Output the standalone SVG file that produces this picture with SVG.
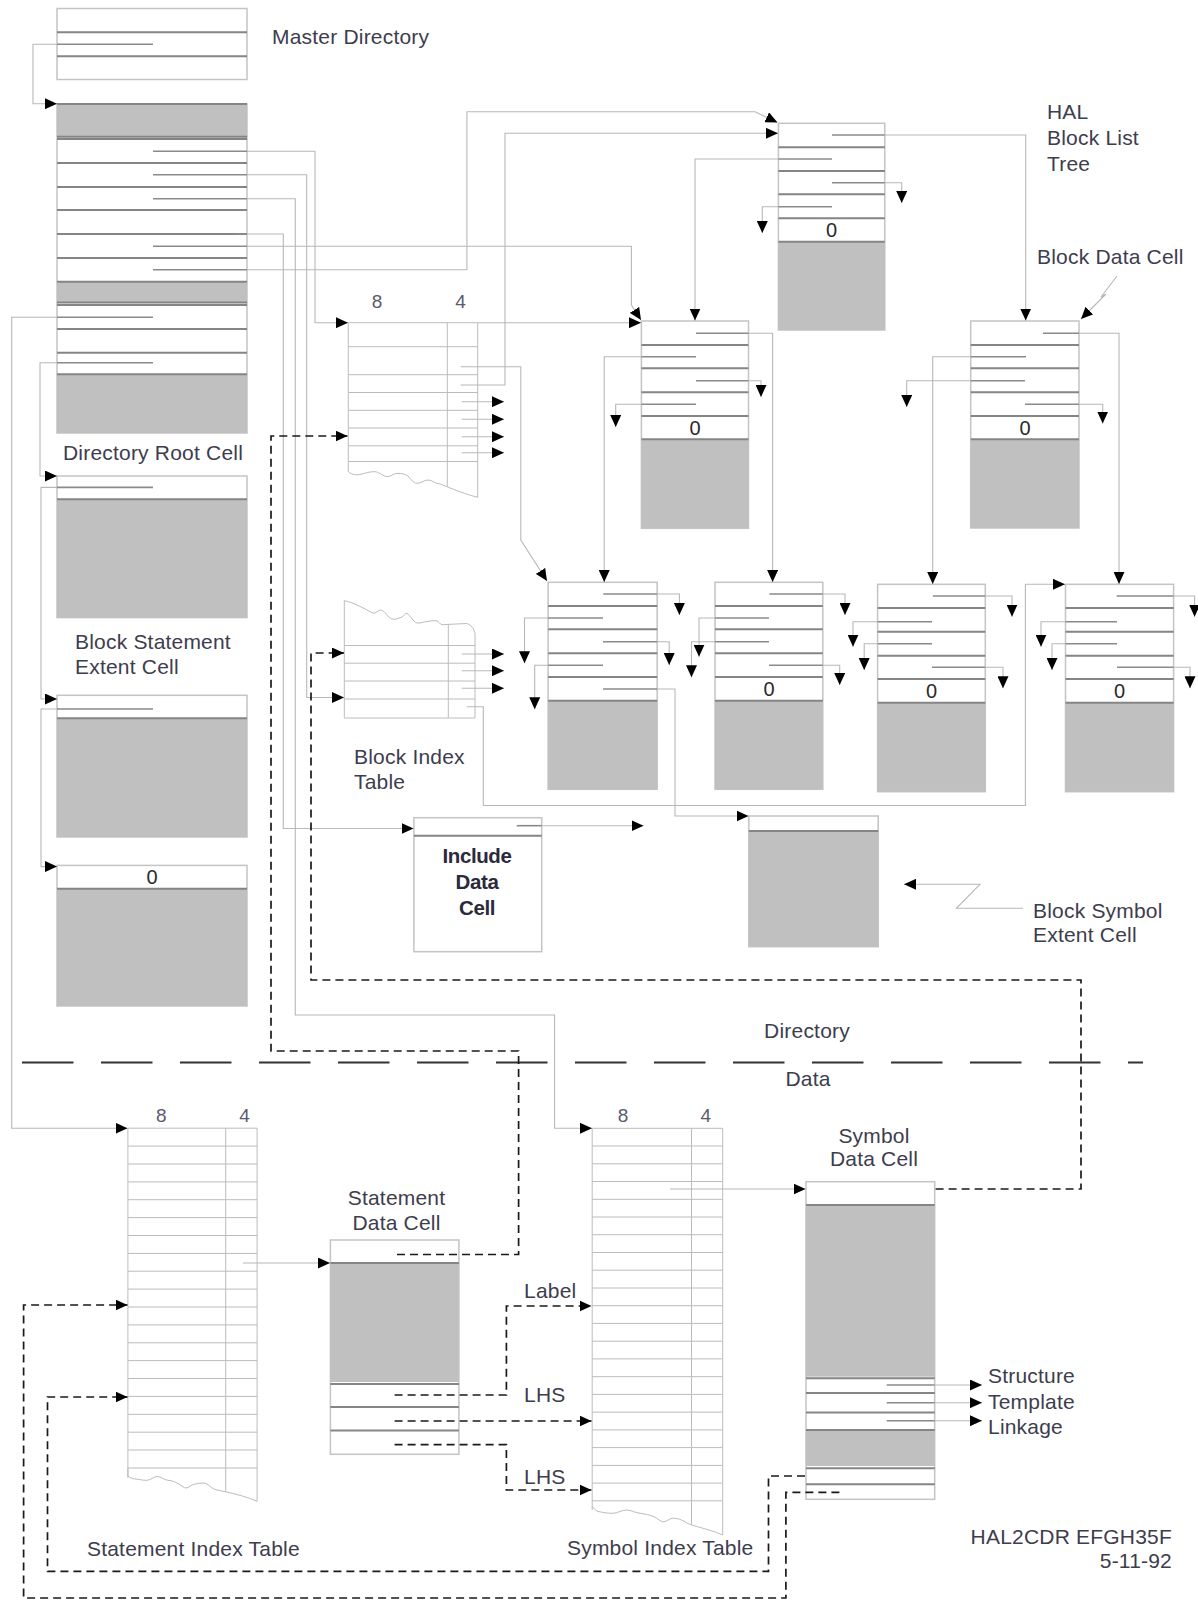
<svg xmlns="http://www.w3.org/2000/svg" width="1198" height="1600" viewBox="0 0 1198 1600">
<defs>
<marker id="ah" viewBox="0 0 12 11" refX="12" refY="5.5" markerWidth="12" markerHeight="11" markerUnits="userSpaceOnUse" orient="auto">
<path d="M0,0 L12,5.5 L0,11 z" fill="#000"/>
</marker>
<style>
.cell{fill:#fff;stroke:#c4c4c4;stroke-width:1.5}
.gray{fill:#c0c0c0;stroke:none}
.row{stroke:#858585;stroke-width:2;fill:none}
.ptr{stroke:#8a8a8a;stroke-width:1.6;fill:none}
.conn{fill:none;stroke:#b8b8b8;stroke-width:1.1}
.arr{marker-end:url(#ah)}
.dash{fill:none;stroke:#1a1a1a;stroke-width:1.7;stroke-dasharray:8 5}
.tbl{fill:none;stroke:#bcbcbc;stroke-width:1}
.lbl{font-family:"Liberation Sans",Arial,sans-serif;font-size:21px;letter-spacing:0.2px;fill:#3d3d4d}
.hdr{font-family:"Liberation Sans",Arial,sans-serif;font-size:19px;fill:#5a5a6e;text-anchor:middle}
.zero{font-family:"Liberation Sans",Arial,sans-serif;font-size:20px;fill:#2a2a2a;text-anchor:middle}
.bold{font-family:"Liberation Sans",Arial,sans-serif;font-size:20.5px;font-weight:bold;fill:#2a2a3a;text-anchor:middle;letter-spacing:-0.4px}
</style>
</defs>
<rect width="1198" height="1600" fill="#fff"/>

<!-- Master Directory -->
<g id="master-directory">
<rect class="cell" x="57" y="8.5" width="190" height="71"/>
<path class="row" d="M57,32.3H247M57,56.3H247"/>
<path class="ptr" d="M57,44.3H153"/>
<text class="lbl" x="272" y="44">Master Directory</text>
</g>

<!-- Directory Root Cell -->
<g id="directory-root-cell">
<rect class="cell" x="57" y="104" width="190" height="329"/>
<rect class="gray" x="57" y="104" width="190" height="32.7"/>
<rect class="gray" x="57" y="282" width="190" height="20"/>
<rect class="gray" x="57" y="374.3" width="190" height="58.7"/>
<path class="row" d="M57,104H247M57,136.7H247M57,138.9H247M57,163H247M57,187H247M57,210H247M57,234H247M57,258H247M57,281.7H247M57,302.5H247M57,305H247M57,329H247M57,352.7H247M57,374.3H247"/>
<path class="ptr" d="M153,151.3H247M153,174.7H247M153,198.7H247M235,234H247M153,246.3H247M153,269.7H247M57,317.3H153M57,362.7H153"/>
<text class="lbl" x="63" y="460">Directory Root Cell</text>
</g>

<!-- Block Statement Extent Cells -->
<g id="block-statement-extent-cell-1">
<rect class="cell" x="57" y="476" width="190" height="141.6"/>
<rect class="gray" x="57" y="499.2" width="190" height="118.4"/>
<path class="row" d="M57,499.2H247"/>
<path class="ptr" d="M57,487.4H153"/>
</g>
<text class="lbl" x="75" y="649">Block Statement</text>
<text class="lbl" x="75" y="674">Extent Cell</text>
<g id="block-statement-extent-cell-2">
<rect class="cell" x="57" y="695.3" width="190" height="141.7"/>
<rect class="gray" x="57" y="718.2" width="190" height="118.8"/>
<path class="row" d="M57,718.2H247"/>
<path class="ptr" d="M57,709H153"/>
</g>
<g id="block-statement-extent-cell-3">
<rect class="cell" x="57" y="865.4" width="190" height="140.6"/>
<rect class="gray" x="57" y="888.8" width="190" height="117.2"/>
<path class="row" d="M57,888.8H247"/>
<text class="zero" x="152" y="884">0</text>
</g>

<!-- HAL Block List Tree -->
<g id="hal-block-list-tree">
<rect class="cell" x="778.4" y="123.3" width="106.4" height="206.7"/>
<rect class="gray" x="778.4" y="241.7" width="106.4" height="88.3"/>
<path class="row" d="M778.4,147.3H884.8M778.4,171H884.8M778.4,194.3H884.8M778.4,218.3H884.8M778.4,241.7H884.8"/>
<path class="ptr" d="M832,135H884.8M778.4,159H832M832,182.7H884.8M778.4,206.7H832"/>
<text class="zero" x="831.5" y="237">0</text>
<text class="lbl" x="1047" y="119">HAL</text>
<text class="lbl" x="1047" y="145">Block List</text>
<text class="lbl" x="1047" y="171">Tree</text>
</g>

<!-- Block Data Cell (middle) -->
<g id="block-data-cell-1">
<rect class="cell" x="641.4" y="321" width="107.1" height="207.3"/>
<rect class="gray" x="641.4" y="439.3" width="107.1" height="89"/>
<path class="row" d="M641.4,345H748.5M641.4,368.3H748.5M641.4,392.3H748.5M641.4,416H748.5M641.4,439.3H748.5"/>
<path class="ptr" d="M696,333.3H748.5M641.4,356.7H696M696,380.7H748.5M641.4,404.3H696"/>
<text class="zero" x="695" y="435">0</text>
</g>

<!-- Block Data Cell (right) -->
<g id="block-data-cell-2">
<rect class="cell" x="970.7" y="321" width="108.3" height="207"/>
<rect class="gray" x="970.7" y="439.3" width="108.3" height="88.7"/>
<path class="row" d="M970.7,345H1079M970.7,368.3H1079M970.7,392.3H1079M970.7,416H1079M970.7,439.3H1079"/>
<path class="ptr" d="M1043,333.3H1079M970.7,356.7H1026M970.7,380.7H1025M1025,404.3H1079"/>
<text class="zero" x="1025" y="435">0</text>
<text class="lbl" x="1037" y="264">Block Data Cell</text>
</g>

<!-- Level 3 block cells -->
<g id="block-cell-3a">
<rect class="cell" x="548.1" y="582.3" width="109.1" height="207"/>
<rect class="gray" x="548.1" y="700.7" width="109.1" height="88.6"/>
<path class="row" d="M548.1,606H657.2M548.1,629.3H657.2M548.1,653.3H657.2M548.1,677H657.2M548.1,700.7H657.2"/>
<path class="ptr" d="M603.3,594H657.2M548.1,618H603M603,641.7H657.2M548.1,665.3H603M603,689H657.2"/>
</g>
<g id="block-cell-3b">
<rect class="cell" x="715" y="582.3" width="107.8" height="207"/>
<rect class="gray" x="715" y="700.7" width="107.8" height="88.6"/>
<path class="row" d="M715,606H822.8M715,629.3H822.8M715,653.3H822.8M715,677H822.8M715,700.7H822.8"/>
<path class="ptr" d="M769.4,594H822.8M715,618H769M715,641.7H769M769,665.3H822.8"/>
<text class="zero" x="769" y="696">0</text>
</g>
<g id="block-cell-3c">
<rect class="cell" x="877.6" y="584.3" width="107.7" height="207.4"/>
<rect class="gray" x="877.6" y="702.7" width="107.7" height="89"/>
<path class="row" d="M877.6,608H985.3M877.6,631.7H985.3M877.6,655.7H985.3M877.6,679H985.3M877.6,702.7H985.3"/>
<path class="ptr" d="M932.8,596H985.3M877.6,621.7H932M877.6,643.7H932M932,667.3H985.3"/>
<text class="zero" x="931.5" y="698">0</text>
</g>
<g id="block-cell-3d">
<rect class="cell" x="1065.5" y="584.3" width="108.1" height="207.4"/>
<rect class="gray" x="1065.5" y="702.7" width="108.1" height="89"/>
<path class="row" d="M1065.5,608H1173.6M1065.5,631.7H1173.6M1065.5,655.7H1173.6M1065.5,679H1173.6M1065.5,702.7H1173.6"/>
<path class="ptr" d="M1116.7,596H1173.6M1065.5,621.7H1117M1065.5,643.7H1117M1117,667.3H1173.6"/>
<text class="zero" x="1119.5" y="698">0</text>
</g>

<!-- Block Symbol Extent Cell -->
<g id="block-symbol-extent-cell">
<rect class="cell" x="748.8" y="816" width="129.4" height="130.7"/>
<rect class="gray" x="748.8" y="831" width="129.4" height="115.7"/>
<path class="row" d="M748.8,831H878.2"/>
<text class="lbl" x="1033" y="918">Block Symbol</text>
<text class="lbl" x="1033" y="942">Extent Cell</text>
</g>

<!-- Include Data Cell -->
<g id="include-data-cell">
<rect class="cell" x="413.9" y="817.7" width="127.8" height="134"/>
<path class="row" d="M413.9,835.7H541.7"/>
<path class="ptr" d="M516.7,825.7H541.7"/>
<text class="bold" x="477" y="863">Include</text>
<text class="bold" x="477" y="889">Data</text>
<text class="bold" x="477" y="915">Cell</text>
</g>

<!-- Block List index table (top) -->
<g id="block-list-index-table">
<path class="tbl" d="M348.3,322.7H477.7M348.3,346.7H477.7M348.3,374.7H477.7M348.3,392.5H477.7M348.3,410.3H477.7M348.3,428H477.7M348.3,445.8H477.7M348.3,461.5H477.7"/>
<path class="tbl" d="M348.3,322.7V471.7M447.3,322.7V486.7M477.7,322.7V497.3"/>
<path class="tbl" d="M348.3,471.7 C352,475 356,475 360,474.5 C366,473 370,471.5 375,471.7 C380,472 383,477 388,476.5 C392,476 394,473 398,473.3 C402,473.5 405,474 408,476 C411,479 413,483 417,483.3 C421,483.5 424,480 428,480 C432,480 434,483 438,483.5 C441,484 444,485.5 447,486.7 C455,490 465,494 477.7,497.3"/>
<path class="conn" d="M460.7,366.7H477.7M460.7,385H477.7"/>
<text class="hdr" x="377" y="308">8</text>
<text class="hdr" x="460.5" y="308">4</text>
</g>

<!-- Block Index Table -->
<g id="block-index-table">
<path class="tbl" d="M344.3,645.5H475M344.3,663.2H475M344.3,681H475M344.3,699H475M344.3,718H475"/>
<path class="tbl" d="M344.3,600.7V718M448.3,624.3V718M475,633.3V718"/>
<path class="tbl" d="M344.3,600.7 C350,602 354,603.5 358,605.5 C364,608 368,611 373,613 C376,614 378,610 381,610 C385,610.5 388,618 392,619 C396,620 398,618 401,617.5 C404,616.5 405,613 407,613.5 C410,614.5 413,622 417,623 C421,623.5 424,621.5 427,621.5 C431,621 433,620.5 436,620.7 C439,621 440,624.5 442,624.7 L466.7,623.5 C470,624 472,627 473.5,629 L475,633.3"/>
<text class="lbl" x="354" y="764">Block Index</text>
<text class="lbl" x="354" y="789">Table</text>
</g>

<!-- Statement Index Table -->
<g id="statement-index-table">
<path class="tbl" d="M127.9,1128.2H257.1M127.9,1146.1H257.1M127.9,1164H257.1M127.9,1181.9H257.1M127.9,1199.7H257.1M127.9,1217.6H257.1M127.9,1235.5H257.1M127.9,1253.4H257.1M127.9,1271.2H257.1M127.9,1289.1H257.1M127.9,1307H257.1M127.9,1324.9H257.1M127.9,1342.8H257.1M127.9,1360.6H257.1M127.9,1378.5H257.1M127.9,1396.4H257.1M127.9,1414.3H257.1M127.9,1432.2H257.1M127.9,1450H257.1M127.9,1468H257.1"/>
<path class="tbl" d="M127.9,1128.2V1478M225.7,1128.2V1491.8M257.1,1128.2V1501.3"/>
<path class="tbl" d="M127.9,1468 L127.9,1476 C130,1478 133,1479 136,1479 C140,1479.5 143,1480.5 147,1480.3 C151,1480 154,1476.5 157,1476.5 C161,1476.5 164,1480 168,1480.3 C172,1480.5 175,1482 179,1484 C182,1486 184,1488 186,1488 C189,1488 191,1484.5 195,1484 C199,1483.5 201,1483 204,1483 C208,1483.5 211,1488 214,1489 C218,1490.5 222,1491 225.7,1491.8 C236,1494 247,1497 257.1,1501.3"/>
<text class="hdr" x="161.4" y="1122">8</text>
<text class="hdr" x="244.6" y="1122">4</text>
<text class="lbl" x="87" y="1556">Statement Index Table</text>
</g>

<!-- Statement Data Cell -->
<g id="statement-data-cell">
<rect class="cell" x="330.4" y="1240" width="128.5" height="214.3"/>
<rect class="gray" x="330.4" y="1263" width="128.5" height="119"/>
<path class="row" d="M330.4,1263H458.9M330.4,1384H458.9M330.4,1407H458.9M330.4,1430.5H458.9"/>
<text class="lbl" x="396.5" y="1205" text-anchor="middle">Statement</text>
<text class="lbl" x="396.5" y="1230" text-anchor="middle">Data Cell</text>
</g>

<!-- Symbol Index Table -->
<g id="symbol-index-table">
<path class="tbl" d="M592.2,1128.3H722.7M592.2,1146H722.7M592.2,1163.8H722.7M592.2,1181.5H722.7M592.2,1199.3H722.7M592.2,1217H722.7M592.2,1234.7H722.7M592.2,1252.5H722.7M592.2,1270.2H722.7M592.2,1288H722.7M592.2,1305.7H722.7M592.2,1323.4H722.7M592.2,1341.2H722.7M592.2,1358.9H722.7M592.2,1376.7H722.7M592.2,1394.4H722.7M592.2,1412.1H722.7M592.2,1429.9H722.7M592.2,1447.6H722.7M592.2,1465.4H722.7M592.2,1483.1H722.7M592.2,1500.8H722.7"/>
<path class="tbl" d="M592.2,1128.3V1510M691.5,1128.3V1525M722.7,1128.3V1535"/>
<path class="tbl" d="M592.2,1506 C594,1509 596,1511 599,1511.7 C604,1512.5 608,1513.5 613,1513.3 C618,1513 622,1510 626.5,1510 C631,1510 636,1513 640.3,1513.3 C645,1514 650,1515 654,1516.7 C658,1518.5 660,1521.5 663.2,1521.7 C667,1522 669,1518.5 672.3,1518.3 C676,1518 679,1519 681.5,1520 C685,1521.5 688,1524 691.5,1525 C700,1527.5 714,1531 722.7,1535"/>
<text class="hdr" x="623" y="1122">8</text>
<text class="hdr" x="705.7" y="1122">4</text>
<text class="lbl" x="567" y="1555">Symbol Index Table</text>
</g>

<!-- Symbol Data Cell -->
<g id="symbol-data-cell">
<rect class="cell" x="806" y="1181.7" width="128.7" height="317.6"/>
<rect class="gray" x="806" y="1205" width="128.7" height="171.7"/>
<rect class="gray" x="806" y="1430" width="128.7" height="36"/>
<path class="row" d="M806,1205H934.7M806,1378.3H934.7M806,1393H934.7M806,1412.5H934.7M806,1430H934.7M806,1468.3H934.7M806,1484.3H934.7"/>
<path class="ptr" d="M886.7,1385H934.7M886.7,1402.7H934.7M886.7,1420.7H934.7"/>
<text class="lbl" x="874" y="1143" text-anchor="middle">Symbol</text>
<text class="lbl" x="874" y="1166" text-anchor="middle">Data Cell</text>
<text class="lbl" x="988" y="1383">Structure</text>
<text class="lbl" x="988" y="1409">Template</text>
<text class="lbl" x="988" y="1434">Linkage</text>
</g>

<!-- Divider and region labels -->
<g id="divider">
<path d="M22,1062.5H1143" fill="none" stroke="#333" stroke-width="1.8" stroke-dasharray="51.5 27.5"/>
<text class="lbl" x="807" y="1038" text-anchor="middle">Directory</text>
<text class="lbl" x="808" y="1086" text-anchor="middle">Data</text>
</g>

<g id="footer">
<text class="lbl" x="1172" y="1544" text-anchor="end">HAL2CDR EFGH35F</text>
<text class="lbl" x="1172" y="1568" text-anchor="end">5-11-92</text>
</g>

<!-- Connectors -->
<g id="connectors">
<path class="conn arr" d="M57,44.3H33V103.7H57"/>
<path class="conn arr" d="M247,151.3H315V322.7H348"/>
<path class="conn arr" d="M477.7,322.7H641"/>
<path class="conn arr" d="M247,174.7H306.7V697.5H344"/>
<path class="conn arr" d="M247,198.7H295.3V1015H554.6V1128.3H592"/>
<path class="conn arr" d="M247,234H283.3V828.5H413.5"/>
<path class="conn arr" d="M247,246.3H631.4V305L641,320"/>
<path class="conn arr" d="M247,269.7H466.9V111.7H755L777.5,122.5"/>
<path class="conn arr" d="M477.7,385H505V133.3H778"/>
<path class="conn arr" d="M477.7,366.7H520.8V540L547,581"/>
<path class="conn arr" d="M461.7,401.7H504"/>
<path class="conn arr" d="M461.7,419.3H504"/>
<path class="conn arr" d="M461.7,436.7H504"/>
<path class="conn arr" d="M461.7,452.7H504"/>
<path class="conn arr" d="M884.8,135H1025.7V320.5"/>
<path class="conn arr" d="M778.4,159H695V320.5"/>
<path class="conn arr" d="M884.8,182.7H901.7V203"/>
<path class="conn arr" d="M778.4,206.7H762.3V233"/>
<path class="conn arr" d="M1117,276L1101,297L1106,294L1081,319"/>
<path class="conn arr" d="M748.5,333.3H772.6V582"/>
<path class="conn arr" d="M641.4,356.7H604.2V582"/>
<path class="conn arr" d="M748.5,380.7H761V397"/>
<path class="conn arr" d="M641.4,404.3H615.7V427"/>
<path class="conn arr" d="M1079,333.3H1119V584"/>
<path class="conn arr" d="M970.7,356.7H932.7V584"/>
<path class="conn arr" d="M970.7,380.7H906.7V407"/>
<path class="conn arr" d="M1079,404.3H1102.7V423.5"/>
<path class="conn arr" d="M657.2,594H679.4V615"/>
<path class="conn arr" d="M548.1,618H524.5V663.3"/>
<path class="conn arr" d="M657.2,641.7H669.2V665"/>
<path class="conn arr" d="M548.1,665.3H534.7V709.3"/>
<path class="conn arr" d="M657.2,689H675V816H748.5"/>
<path class="conn arr" d="M822.8,594H845V615"/>
<path class="conn arr" d="M715,618H699V656.7"/>
<path class="conn arr" d="M715,641.7H691.5V677.3"/>
<path class="conn arr" d="M822.8,665.3H839.7V685"/>
<path class="conn arr" d="M985.3,596H1012V616.7"/>
<path class="conn arr" d="M877.6,621.7H853V646.7"/>
<path class="conn arr" d="M877.6,643.7H864.2V670"/>
<path class="conn arr" d="M985.3,667.3H1003V688.3"/>
<path class="conn arr" d="M1173.6,596H1194.6V616.7"/>
<path class="conn arr" d="M1065.5,621.7H1041V646.7"/>
<path class="conn arr" d="M1065.5,643.7H1052V670"/>
<path class="conn arr" d="M1173.6,667.3H1190V688.3"/>
<path class="conn arr" d="M466.7,706.7H483.3V805.5H1025.4V584.3H1065"/>
<path class="conn arr" d="M461.7,654H504"/>
<path class="conn arr" d="M461.7,670.7H504"/>
<path class="conn arr" d="M461.7,688.3H504"/>
<path class="conn arr" d="M541.7,825.7H643.5"/>
<path class="conn arr" d="M1023,908.3H956.4L980,884.3H904"/>
<path class="conn arr" d="M57,317.3H11.7V1128.2H127.5"/>
<path class="conn arr" d="M57,362.7H40V476H57"/>
<path class="conn arr" d="M57,487.4H41V699H57"/>
<path class="conn arr" d="M57,709H41V866.6H57"/>
<path class="conn arr" d="M242.9,1263H330"/>
<path class="conn arr" d="M670,1189H805.5"/>
<path class="conn arr" d="M934.7,1385H982"/>
<path class="conn arr" d="M934.7,1402.7H982"/>
<path class="conn arr" d="M934.7,1420.7H982"/>
<path class="dash arr" d="M397,1254.5H518.6V1051H271V436H347.5"/>
<path class="dash arr" d="M935.6,1189H1081V980H311V653H344"/>
<path class="dash arr" d="M394.6,1395H506.4V1306H591.5"/>
<path class="dash arr" d="M394.6,1421H591.5"/>
<path class="dash arr" d="M394.6,1444.7H506.4V1490H591.5"/>
<path class="dash arr" d="M805,1476H768.5V1571.4H47.5V1397H127.5"/>
<path class="dash arr" d="M839.4,1492.3H785.9V1598H23.6V1305H127.5"/>
</g>
<text class="lbl" x="524" y="1298">Label</text>
<text class="lbl" x="524" y="1402">LHS</text>
<text class="lbl" x="524" y="1484">LHS</text>
</svg>
